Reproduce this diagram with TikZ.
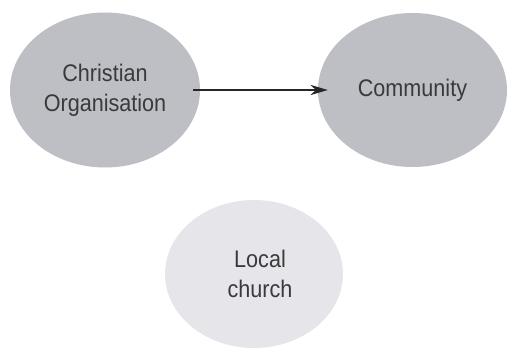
\documentclass[tikz,border=0pt]{standalone}
\usepackage{fontspec}
\setmainfont[FakeStretch=0.9]{Liberation Sans}
\usetikzlibrary{shapes.geometric,arrows.meta}
\definecolor{darkfill}{RGB}{190,191,196}
\definecolor{lightfill}{RGB}{230,230,234}
\definecolor{txt}{RGB}{58,58,60}
\tikzset{
  bubble/.style={ellipse, inner sep=0pt, text=txt, align=center,
    font=\fontsize{24pt}{30pt}\selectfont},
  darkbubble/.style={bubble, fill=darkfill},
  lightbubble/.style={bubble, fill=lightfill},
  link/.style={-{Stealth[length=17pt,width=10pt,inset=5pt]}, line width=2.2pt, black!85}
}
\begin{document}
\begin{tikzpicture}[x=1pt,y=1pt]
\useasboundingbox (0,0) rectangle (507,349);
\node[darkbubble, minimum width=190pt, minimum height=155pt] (org) at (105,259) {Christian\\Organisation};
\node[darkbubble, minimum width=189pt, minimum height=154pt] (com) at (412.5,259) {Community};
\node[lightbubble, minimum width=178pt, minimum height=148pt,
  label={[font=\fontsize{24pt}{30pt}\selectfont, text=txt, align=center, xshift=6pt]center:Local\\church}] (church) at (254,75) {};
\draw[link, shorten <=-7pt, shorten >=-10pt] (org.east) -- (com.west);
\end{tikzpicture}
\end{document}
